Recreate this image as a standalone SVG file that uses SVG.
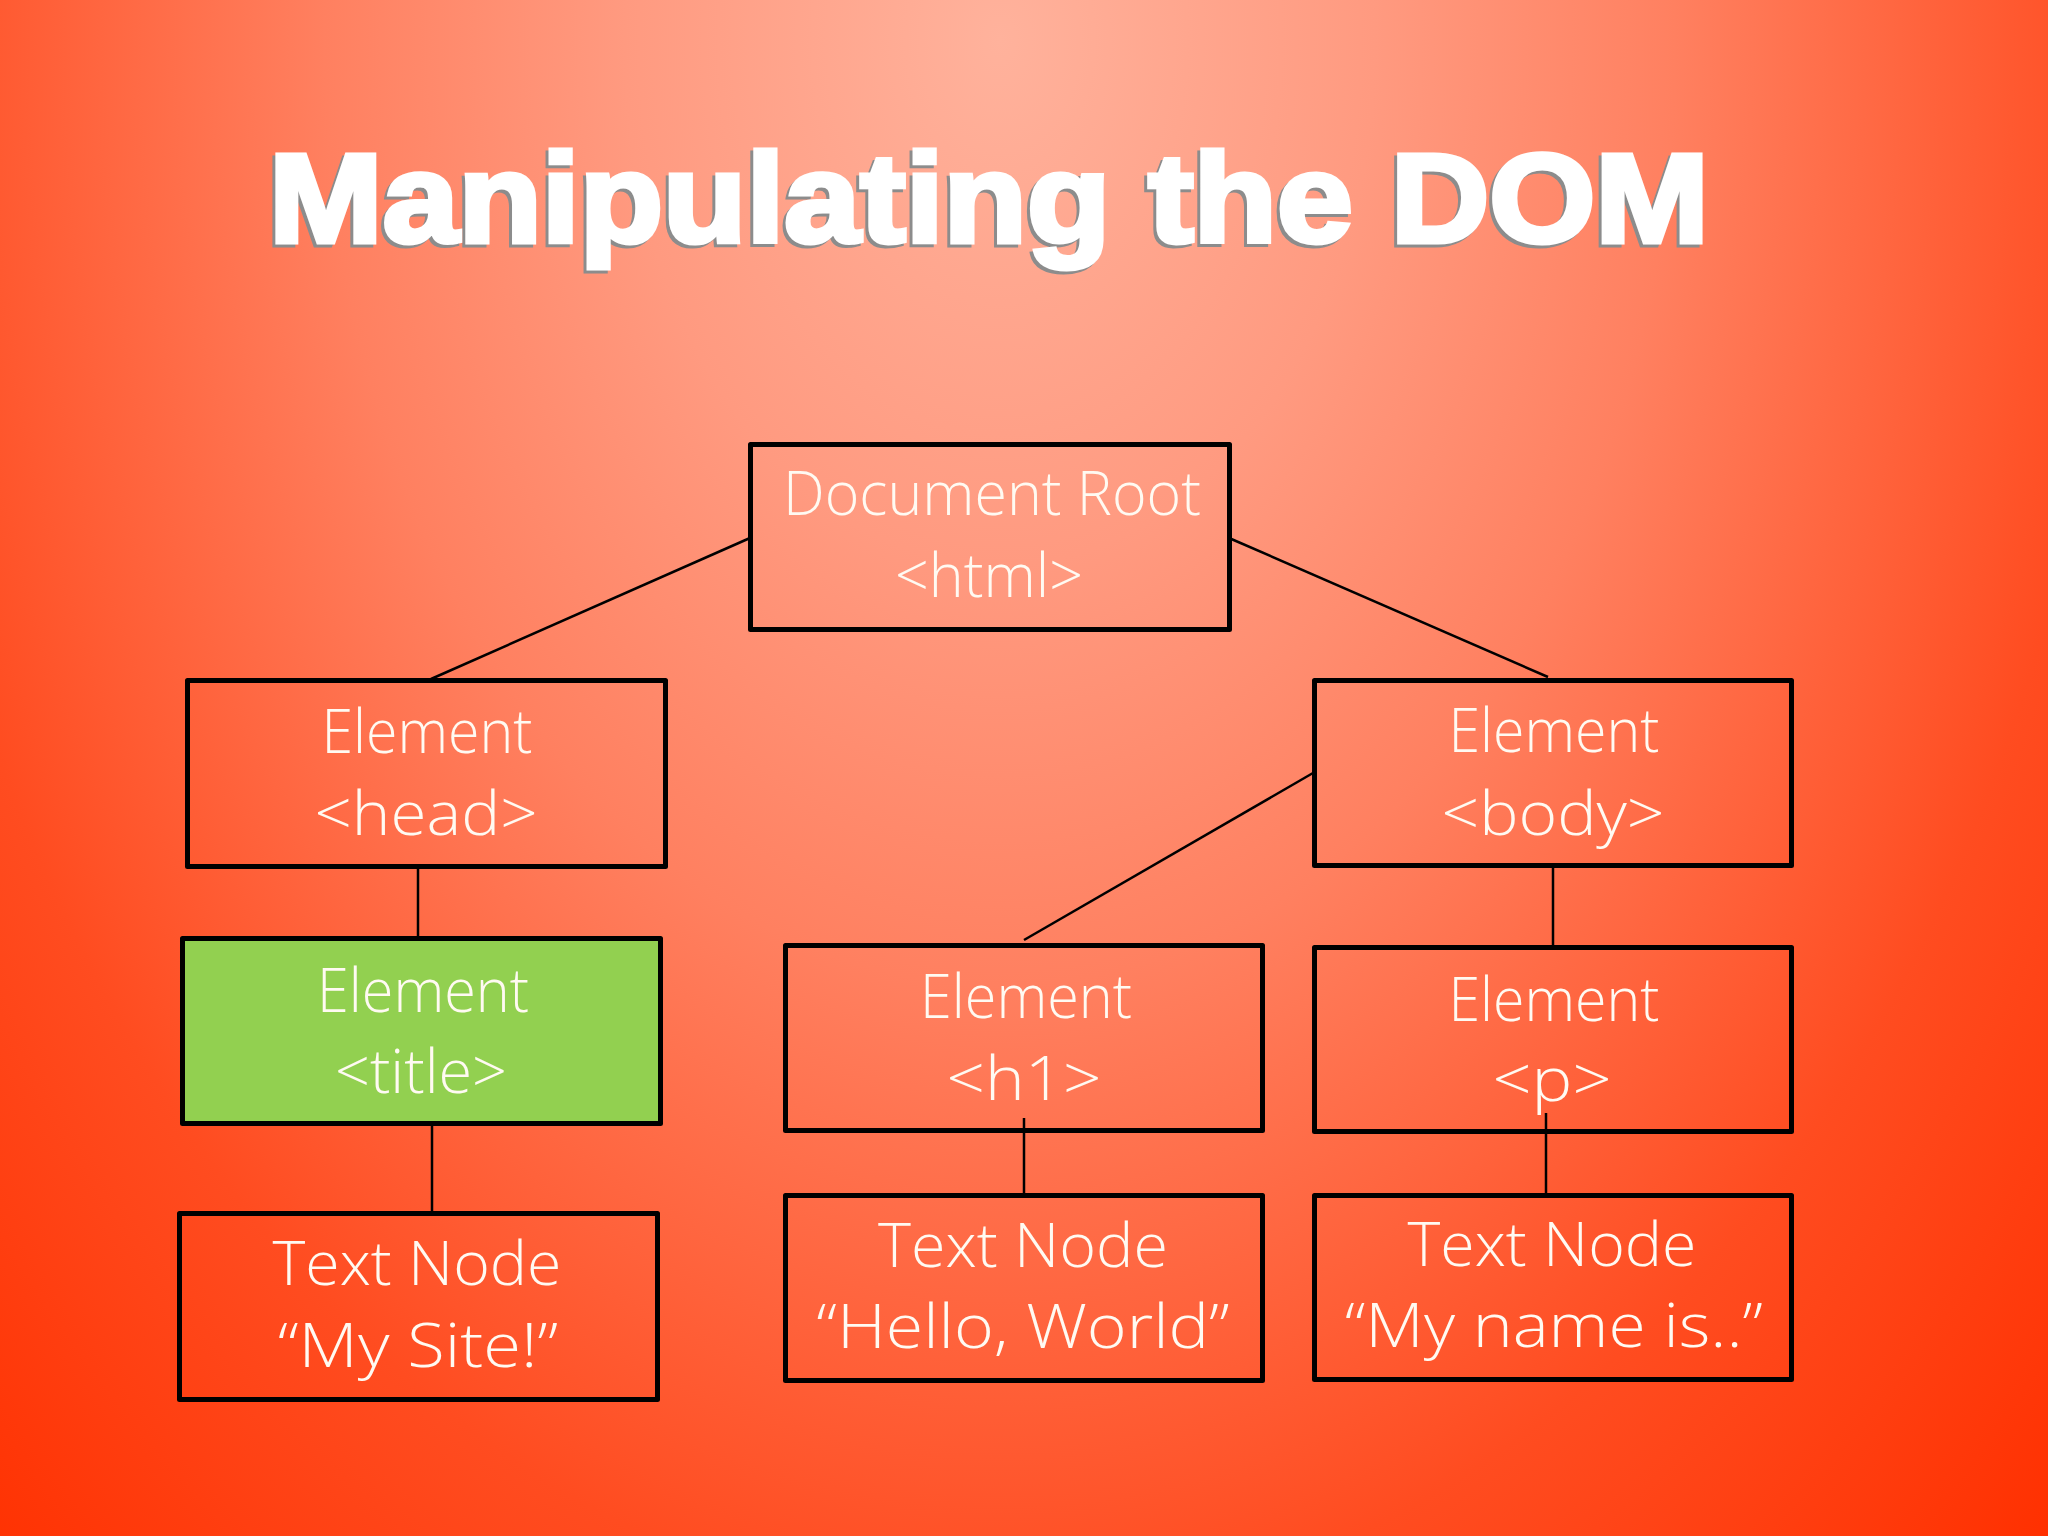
<svg xmlns="http://www.w3.org/2000/svg" width="2048" height="1536" viewBox="0 0 2048 1536">
  <defs>
    <radialGradient id="bg" gradientUnits="userSpaceOnUse" cx="0" cy="0" r="1" gradientTransform="translate(1000,40) scale(1500,2100)">
      <stop offset="0" stop-color="#ffb29c"/>
      <stop offset="0.25" stop-color="#ff9a80"/>
      <stop offset="0.45" stop-color="#ff8060"/>
      <stop offset="0.6" stop-color="#ff6640"/>
      <stop offset="0.75" stop-color="#ff4c20"/>
      <stop offset="1" stop-color="#ff3000"/>
    </radialGradient>
  </defs>
  <style>
    .box { fill: none; stroke: #000; stroke-width: 5; stroke-linejoin: round; }
    .green { fill: #92d050; }
    .lbl { font-family: "Open Sans", "Liberation Sans", sans-serif; font-weight: 300; font-size: 60px; fill: #fffaf2; text-anchor: middle; }
    .conn line { stroke: #000; stroke-width: 2.5; }
    .title { font-family: "Liberation Sans", Arial, sans-serif; font-weight: bold; font-size: 126px; text-anchor: middle; }
  </style>
  <rect x="0" y="0" width="2048" height="1536" fill="url(#bg)"/>

  <g id="heading">
    <text class="title" x="986" y="245" textLength="1440" lengthAdjust="spacingAndGlyphs" fill="#8c8c8c" stroke="#8c8c8c" stroke-width="5">Manipulating the DOM</text>
    <text class="title" x="989" y="242" textLength="1440" lengthAdjust="spacingAndGlyphs" fill="#ffffff" stroke="#ffffff" stroke-width="5">Manipulating the DOM</text>
  </g>

  <g id="connectors" class="conn">
    <line x1="750" y1="538" x2="431" y2="679"/>
    <line x1="1229" y1="538" x2="1548" y2="677"/>
    <line x1="418" y1="868" x2="418" y2="948"/>
    <line x1="432" y1="1126" x2="432" y2="1212"/>
    <line x1="1313" y1="773" x2="1024" y2="940"/>
    <line x1="1553" y1="868" x2="1553" y2="946"/>
    <line x1="1024" y1="1118" x2="1024" y2="1198"/>
    <line x1="1546" y1="1113" x2="1546" y2="1194"/>
  </g>

  <g id="node-root">
    <rect class="box" x="750.5" y="444.5" width="479" height="185"/>
    <text class="lbl" x="992" y="515" textLength="418" lengthAdjust="spacingAndGlyphs">Document Root</text>
    <text class="lbl" x="989" y="597" textLength="188" lengthAdjust="spacingAndGlyphs">&lt;html&gt;</text>
  </g>

  <g id="node-head">
    <rect class="box" x="187.5" y="680.5" width="478" height="186"/>
    <text class="lbl" x="427" y="753" textLength="211" lengthAdjust="spacingAndGlyphs">Element</text>
    <text class="lbl" x="426" y="835" textLength="223" lengthAdjust="spacingAndGlyphs">&lt;head&gt;</text>
  </g>

  <g id="node-body">
    <rect class="box" x="1314.5" y="680.5" width="477" height="185"/>
    <text class="lbl" x="1554" y="752" textLength="211" lengthAdjust="spacingAndGlyphs">Element</text>
    <text class="lbl" x="1553" y="835" textLength="223" lengthAdjust="spacingAndGlyphs">&lt;body&gt;</text>
  </g>

  <g id="node-title">
    <rect class="box green" x="182.5" y="938.5" width="478" height="185"/>
    <text class="lbl" x="423" y="1012" textLength="212" lengthAdjust="spacingAndGlyphs">Element</text>
    <text class="lbl" x="421" y="1093" textLength="172" lengthAdjust="spacingAndGlyphs">&lt;title&gt;</text>
  </g>

  <g id="node-h1">
    <rect class="box" x="785.5" y="945.5" width="477" height="185"/>
    <text class="lbl" x="1026" y="1018" textLength="212" lengthAdjust="spacingAndGlyphs">Element</text>
    <text class="lbl" x="1024" y="1100" textLength="155" lengthAdjust="spacingAndGlyphs">&lt;h1&gt;</text>
  </g>

  <g id="node-p">
    <rect class="box" x="1314.5" y="947.5" width="477" height="184"/>
    <text class="lbl" x="1554" y="1021" textLength="211" lengthAdjust="spacingAndGlyphs">Element</text>
    <text class="lbl" x="1552" y="1101" textLength="119" lengthAdjust="spacingAndGlyphs">&lt;p&gt;</text>
  </g>

  <g id="node-text-site">
    <rect class="box" x="179.5" y="1213.5" width="478" height="186"/>
    <text class="lbl" x="417" y="1285" textLength="289" lengthAdjust="spacingAndGlyphs">Text Node</text>
    <text class="lbl" x="418" y="1367" textLength="280" lengthAdjust="spacingAndGlyphs">“My Site!”</text>
  </g>

  <g id="node-text-hello">
    <rect class="box" x="785.5" y="1195.5" width="477" height="185"/>
    <text class="lbl" x="1023" y="1267" textLength="290" lengthAdjust="spacingAndGlyphs">Text Node</text>
    <text class="lbl" x="1023" y="1348" textLength="413" lengthAdjust="spacingAndGlyphs">“Hello, World”</text>
  </g>

  <g id="node-text-name">
    <rect class="box" x="1314.5" y="1195.5" width="477" height="184"/>
    <text class="lbl" x="1552" y="1266" textLength="289" lengthAdjust="spacingAndGlyphs">Text Node</text>
    <text class="lbl" x="1554" y="1347" textLength="418" lengthAdjust="spacingAndGlyphs">“My name is..”</text>
  </g>
</svg>
